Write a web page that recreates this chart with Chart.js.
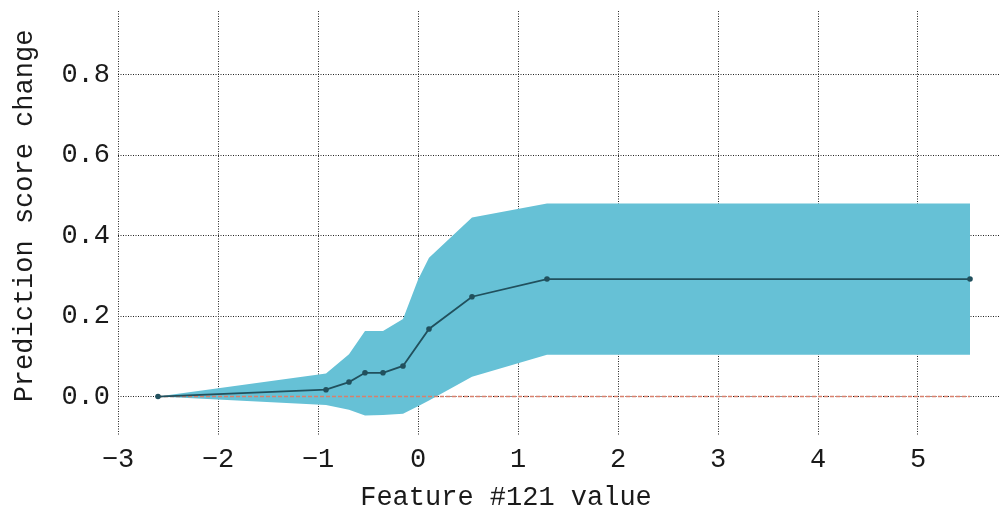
<!DOCTYPE html>
<html>
<head>
<meta charset="utf-8">
<script src="https://cdn.jsdelivr.net/npm/chart.js@4/dist/chart.umd.min.js"></script>
<style>
  html, body { margin: 0; padding: 0; background: #fff; }
  #wrap { width: 1004px; height: 518px; }
</style>
</head>
<body>
<div id="wrap"><canvas id="pdpChart" width="1004" height="518"></canvas></div>
<script>
// --- Data ---
const featureX = [-2.60, -0.92, -0.69, -0.53, -0.35, -0.15, 0.11, 0.54, 1.29, 5.52];
const scoreChange = [0, 0.017, 0.036, 0.059, 0.059, 0.076, 0.168, 0.248, 0.292, 0.292];

const bandX = [-2.60, -0.92, -0.69, -0.53, -0.35, -0.15, 0.0, 0.11, 0.54, 1.29, 5.52];
const bandUpper = [0, 0.057, 0.105, 0.163, 0.163, 0.193, 0.29, 0.345, 0.445, 0.48, 0.48];
const bandLower = [0, -0.021, -0.033, -0.047, -0.046, -0.043, -0.024, -0.010, 0.049, 0.104, 0.104];

const xTicks = [-3, -2, -1, 0, 1, 2, 3, 4, 5];
const yTicks = [0.0, 0.2, 0.4, 0.6, 0.8];

const xTitle = 'Feature #121 value';
const yTitle = 'Prediction score change';

// --- helpers ---
const toPoints = (xs, ys) => xs.map((x, i) => ({ x: x, y: ys[i] }));
const baseline = [
    { x: featureX[0], y: 0 },
    { x: featureX[featureX.length - 1], y: 0 }
];

const FONT = "'Liberation Mono', 'DejaVu Sans Mono', monospace";
const TEXT = '#1a1a1a';

// axis titles sit a little off-centre in the reference, so draw them by hand
const axisTitlePlugin = {
    id: 'axisTitles',
    afterDraw(chart) {
        const { ctx, chartArea } = chart;
        ctx.save();
        ctx.font = `27px ${FONT}`;
        ctx.fillStyle = TEXT;
        ctx.textAlign = 'center';
        ctx.textBaseline = 'middle';
        ctx.fillText(xTitle, chartArea.left + 388, 498);
        ctx.translate(25, 216);
        ctx.rotate(-Math.PI / 2);
        ctx.fillText(yTitle, 0, 0);
        ctx.restore();
    }
};

const ctx = document.getElementById('pdpChart').getContext('2d');
new Chart(ctx, {
    type: 'line',
    data: {
        datasets: [
            {
                label: 'mean',
                data: toPoints(featureX, scoreChange),
                borderColor: '#21505d',
                backgroundColor: '#21505d',
                borderWidth: 1.8,
                pointRadius: 2.8,
                pointBorderWidth: 0,
                fill: false,
                tension: 0
            },
            {
                label: 'zero',
                data: baseline,
                borderColor: '#d9806c',
                borderWidth: 1.5,
                borderDash: [4, 2],
                pointRadius: 0,
                fill: false
            },
            {
                label: 'upper',
                data: toPoints(bandX, bandUpper),
                borderWidth: 0,
                borderColor: 'rgba(0,0,0,0)',
                backgroundColor: '#66c1d6',
                pointRadius: 0,
                fill: '+1',
                tension: 0
            },
            {
                label: 'lower',
                data: toPoints(bandX, bandLower),
                borderWidth: 0,
                borderColor: 'rgba(0,0,0,0)',
                pointRadius: 0,
                fill: false,
                tension: 0
            }
        ]
    },
    options: {
        responsive: false,
        animation: false,
        layout: { padding: { top: 11, right: 0, left: 0, bottom: 0 } },
        plugins: {
            legend: { display: false },
            tooltip: { enabled: false },
            filler: { propagate: false }
        },
        scales: {
            x: {
                type: 'linear',
                min: -3,
                max: 5.82,
                z: 1,
                afterBuildTicks: (scale) => { scale.ticks = xTicks.map(v => ({ value: v })); },
                afterFit: (scale) => {
                    scale.height = 82;
                    scale.paddingLeft = 0;
                    scale.paddingRight = 0;
                },
                grid: { color: '#222', lineWidth: 1, drawTicks: false },
                border: { display: false, dash: [1, 1.5] },
                ticks: {
                    padding: 8,
                    color: TEXT,
                    font: { family: FONT, size: 27 },
                    callback: (v) => (v < 0 ? '\u2212' + Math.abs(v) : String(v))
                }
            },
            y: {
                type: 'linear',
                min: -0.098,
                max: 0.958,
                z: 1,
                afterBuildTicks: (scale) => { scale.ticks = yTicks.map(v => ({ value: v })); },
                afterFit: (scale) => {
                    scale.width = 118;
                    scale.paddingTop = 0;
                    scale.paddingBottom = 0;
                },
                grid: { color: '#222', lineWidth: 1, drawTicks: false },
                border: { display: false, dash: [1, 1.5] },
                ticks: {
                    padding: 8,
                    color: TEXT,
                    font: { family: FONT, size: 27 },
                    callback: (v) => v.toFixed(1)
                }
            }
        }
    },
    plugins: [axisTitlePlugin]
});
</script>
</body>
</html>
